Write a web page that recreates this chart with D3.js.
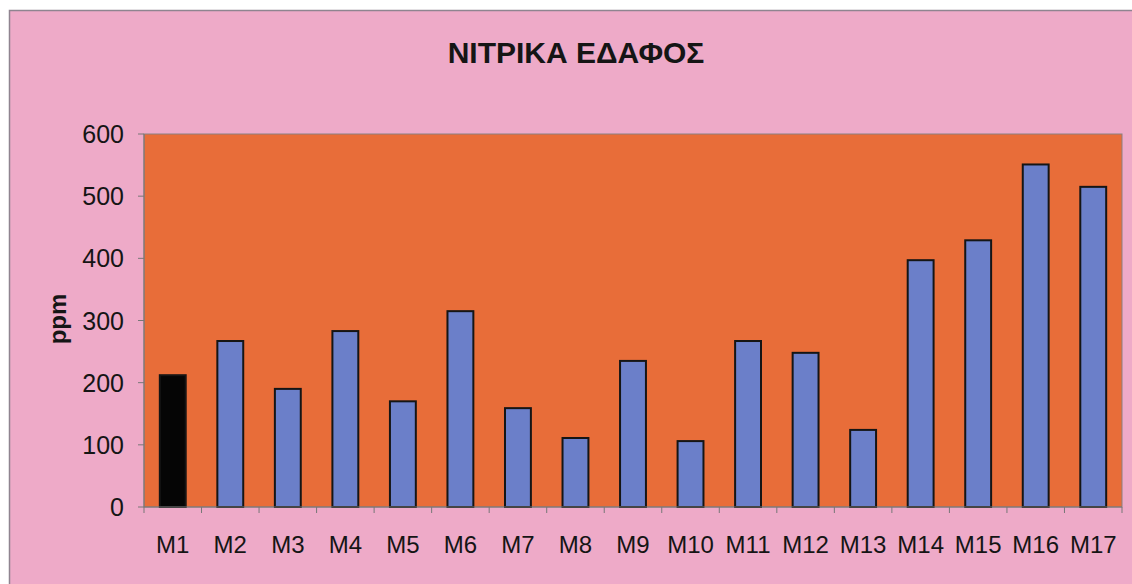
<!DOCTYPE html>
<html>
<head>
<meta charset="utf-8">
<script src="https://cdn.jsdelivr.net/npm/d3@7"></script>
<style>
body{margin:0;background:#fff;overflow:hidden;}
svg{display:block;font-family:"Liberation Sans",Arial,sans-serif;}
</style>
</head>
<body>
<svg id="svg1" width="1132" height="584"></svg>
<script>
// data
const categories = ['M1','M2','M3','M4','M5','M6','M7','M8','M9','M10','M11','M12','M13','M14','M15','M16','M17'];
const values = [212,267,190,283,170,315,159,111,235,106,267,248,124,397,429,551,515];
const yTicks = [0,100,200,300,400,500,600];

const svg = d3.select('#svg1');
const width = 1132, height = 584;
const plot = {left:144, right:1122, top:134, bottom:507};

// chart frame: pink area, border only on the top and left edges
svg.append('rect')
  .attr('x', 9).attr('y', 10)
  .attr('width', width - 9).attr('height', height - 10)
  .attr('fill', '#eeaac8');
svg.append('path')
  .attr('d', `M9.5,${height}V10.5H${width}`)
  .attr('fill', 'none')
  .attr('stroke', '#8f8490').attr('stroke-width', 1.5);

const x = d3.scaleBand().domain(categories).range([plot.left, plot.right]).paddingInner(0.55).paddingOuter(0.275);
const y = d3.scaleLinear().domain([0, 600]).range([plot.bottom, plot.top]);

// plot area
svg.append('rect')
  .attr('x', plot.left).attr('y', plot.top)
  .attr('width', plot.right - plot.left).attr('height', plot.bottom - plot.top)
  .attr('fill', '#e86d39')
  .attr('stroke', '#8a8080').attr('stroke-width', 1);

// bars
svg.selectAll('.bar')
  .data(values)
  .enter().append('rect')
  .attr('class', 'bar')
  .attr('x', (d, i) => x(categories[i]))
  .attr('y', d => y(d))
  .attr('width', x.bandwidth())
  .attr('height', d => y(0) - y(d))
  .attr('fill', (d, i) => i === 0 ? '#050505' : '#6b7fc9')
  .attr('stroke', '#151515').attr('stroke-width', 2);

// y axis line and ticks
svg.append('line')
  .attr('x1', plot.left).attr('x2', plot.left)
  .attr('y1', plot.top).attr('y2', plot.bottom)
  .attr('stroke', '#777');
svg.selectAll('.yt')
  .data(yTicks)
  .enter().append('line')
  .attr('class', 'yt')
  .attr('x1', plot.left - 6).attr('x2', plot.left)
  .attr('y1', d => y(d)).attr('y2', d => y(d))
  .attr('stroke', '#777');
svg.selectAll('.yl')
  .data(yTicks)
  .enter().append('text')
  .attr('class', 'yl')
  .attr('x', plot.left - 20)
  .attr('y', d => y(d) + 9)
  .attr('text-anchor', 'end')
  .style('font-size', '25px').attr('fill', '#151515')
  .text(d => d);

// x axis line, ticks at category boundaries
const step = x.step();
svg.append('line')
  .attr('x1', plot.left).attr('x2', plot.right)
  .attr('y1', plot.bottom).attr('y2', plot.bottom)
  .attr('stroke', '#777');
svg.selectAll('.xt')
  .data(d3.range(categories.length + 1))
  .enter().append('line')
  .attr('class', 'xt')
  .attr('x1', i => plot.left + i * step).attr('x2', i => plot.left + i * step)
  .attr('y1', plot.bottom).attr('y2', plot.bottom + 6)
  .attr('stroke', '#777');
svg.selectAll('.xl')
  .data(categories)
  .enter().append('text')
  .attr('class', 'xl')
  .attr('x', d => x(d) + x.bandwidth() / 2)
  .attr('y', plot.bottom + 46)
  .attr('text-anchor', 'middle')
  .style('font-size', '24px').attr('fill', '#151515')
  .text(d => d);

// title
svg.append('text')
  .attr('x', 576).attr('y', 63)
  .attr('text-anchor', 'middle')
  .style('font-size', '30px').style('font-weight', 'bold')
  .attr('fill', '#151515')
  .text('ΝΙΤΡΙΚΑ ΕΔΑΦΟΣ');

// y label
svg.append('text')
  .attr('transform', 'translate(66,319) rotate(-90)')
  .attr('text-anchor', 'middle')
  .style('font-size', '24px').style('font-weight', 'bold')
  .attr('fill', '#151515')
  .text('ppm');
</script>
</body>
</html>
